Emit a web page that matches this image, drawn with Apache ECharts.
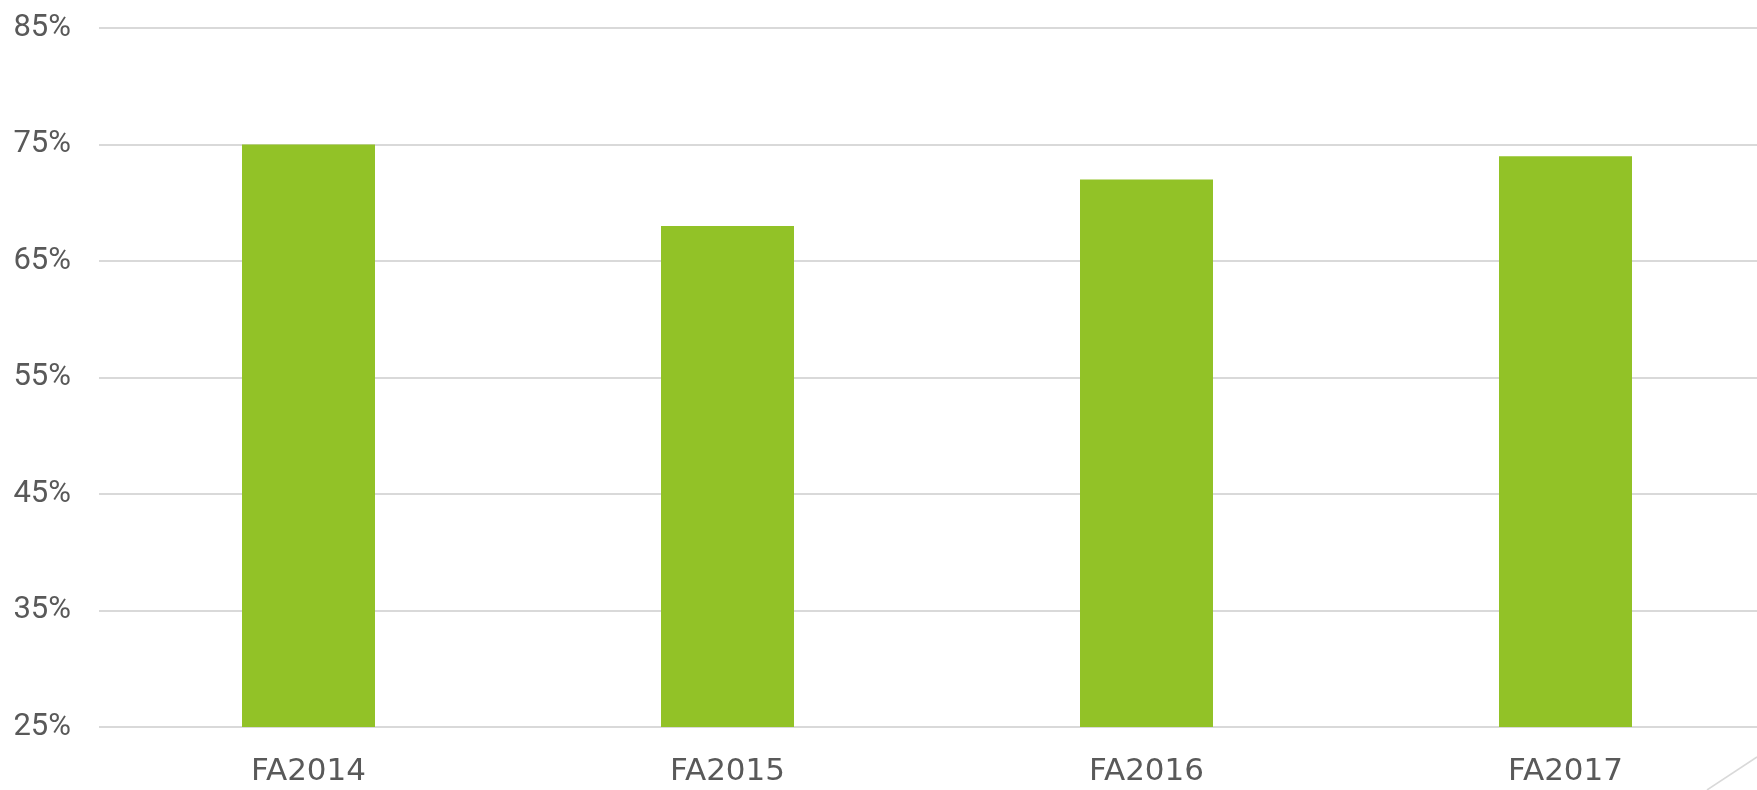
<!DOCTYPE html>
<html>
<head>
<meta charset="utf-8">
<style>
  html, body { margin: 0; padding: 0; background: #fff; }
  #main { width: 1757px; height: 790px; }
</style>
<script src="https://cdn.jsdelivr.net/npm/echarts@6/dist/echarts.min.js"></script>
</head>
<body>
<div id="main"></div>
<script>
const categories = ['FA2014', 'FA2015', 'FA2016', 'FA2017']
const values = [75, 68, 72, 74]
const yTicks = [25, 85, 10] // min, max, step

const chartInstance = echarts.init(document.getElementById('main'))
const option = {
  animation: false,
  grid: {
    left: 99,
    right: -18,
    top: 28,
    bottom: 63,
    outerBoundsMode: 'none'
  },
  xAxis: {
    type: 'category',
    data: categories,
    axisLine: { show: false },
    axisTick: { show: false },
    axisLabel: {
      color: '#595959',
      fontFamily: 'DejaVu Sans',
      fontSize: 31,
      margin: 29
    }
  },
  yAxis: {
    type: 'value',
    min: yTicks[0],
    max: yTicks[1],
    interval: yTicks[2],
    axisLine: { show: false },
    axisTick: { show: false },
    splitLine: {
      lineStyle: { color: '#d9d9d9', width: 2 }
    },
    axisLabel: {
      color: '#595959',
      fontFamily: 'Roboto',
      fontSize: 31,
      margin: 28,
      formatter: '{value}%'
    }
  },
  series: [
    {
      type: 'bar',
      data: values,
      barWidth: 133,
      itemStyle: { color: '#92c227' }
    }
  ],
  graphic: [
    {
      // small decorative stroke in the bottom right corner
      type: 'line',
      shape: { x1: 1707, y1: 790, x2: 1757, y2: 757 },
      style: { stroke: '#d9d9d9', lineWidth: 1.5 }
    }
  ]
}
chartInstance.setOption(option)
</script>
</body>
</html>
